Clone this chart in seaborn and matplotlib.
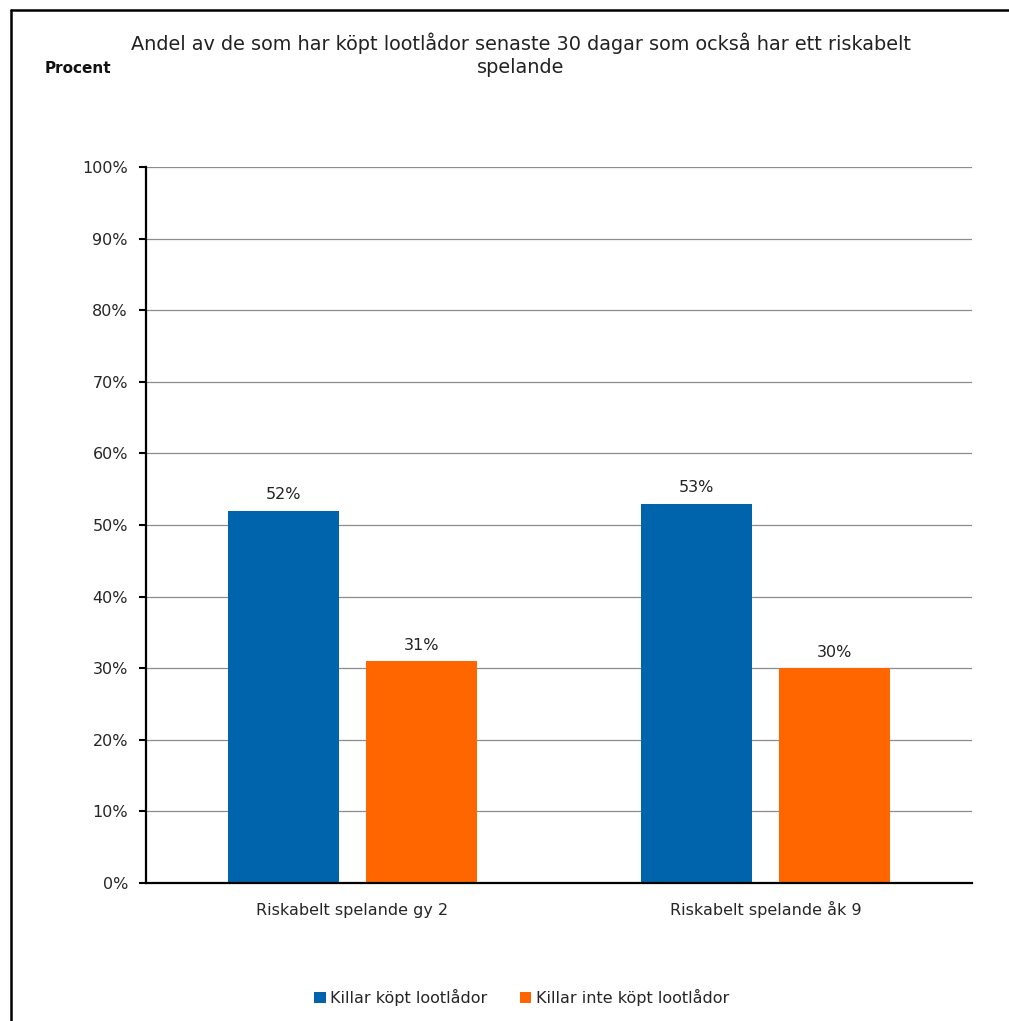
import matplotlib

matplotlib.use("Agg")
import matplotlib.pyplot as plt
import pandas as pd
import seaborn as sns
from matplotlib.lines import Line2D
from matplotlib.patches import Patch

categories = ["Riskabelt spelande gy 2", "Riskabelt spelande åk 9"]
series = ["Killar köpt lootlådor", "Killar inte köpt lootlådor"]
values_kopt = [52, 53]
values_inte = [31, 30]
colors = ["#0064AD", "#FF6600"]

df = pd.DataFrame({
  "kategori": categories * 2,
  "grupp": [series[0]] * 2 + [series[1]] * 2,
  "andel": values_kopt + values_inte,
})

sns.set_theme(style="white")
plt.rcParams["font.family"] = ["DejaVu Sans"]

fig = plt.figure(figsize=(10.09, 10.21), dpi=100)
ax = fig.add_axes([0.1447, 0.1352, 0.8186, 0.7012])

sns.barplot(
  data=df, x="kategori", y="andel", hue="grupp",
  hue_order=series, palette=colors, width=0.668, gap=0.2,
  saturation=1, ax=ax, legend=False, linewidth=0, edgecolor="none",
)

for container in ax.containers:
  ax.bar_label(container, labels=[f"{v:.0f}%" for v in container.datavalues],
               padding=6, fontsize=11.5, color="#222222")

ax.set_ylim(0, 100)
ax.set_yticks(range(0, 101, 10))
ax.set_yticklabels([f"{t}%" for t in range(0, 101, 10)], fontsize=11.5)
ax.tick_params(axis="x", labelsize=11.5, length=0, pad=23)
for lbl in ax.get_xticklabels():
  lbl.set_va("baseline")
ax.tick_params(axis="y", length=5, width=1.5, color="black", direction="out",
               left=True, pad=8)
ax.yaxis.grid(True, color="#8c8c8c", linewidth=0.9)
ax.set_axisbelow(True)
ax.set_xlabel("")
ax.set_ylabel("")
for side in ["top", "right"]:
  ax.spines[side].set_visible(False)
for side in ["left", "bottom"]:
  ax.spines[side].set_color("black")
  ax.spines[side].set_linewidth(1.6)

fig.text(0.516, 0.968,
         "Andel av de som har köpt lootlådor senaste 30 dagar som också har ett riskabelt\nspelande",
         ha="center", va="top", fontsize=13.9, linespacing=1.25, color="#222222")
fig.text(0.044, 0.933, "Procent", ha="left", va="center",
         fontsize=11, fontweight="bold", color="#111111")

handles = [Patch(facecolor=c, edgecolor="none") for c in colors]
fig.legend(handles, series, loc="center", bbox_to_anchor=(0.517, 0.023),
           ncol=2, frameon=False, fontsize=11.5, handlelength=0.7,
           handleheight=0.7, handletextpad=0.3, columnspacing=2.0)

# outer frame (left and top edges only)
fig.add_artist(Line2D([0.0109, 0.0109], [0, 0.9902], color="black", linewidth=1.8,
                      transform=fig.transFigure))
fig.add_artist(Line2D([0.0109, 1.0], [0.9902, 0.9902], color="black", linewidth=1.8,
                      transform=fig.transFigure))

fig.savefig("out.png", dpi=100)
